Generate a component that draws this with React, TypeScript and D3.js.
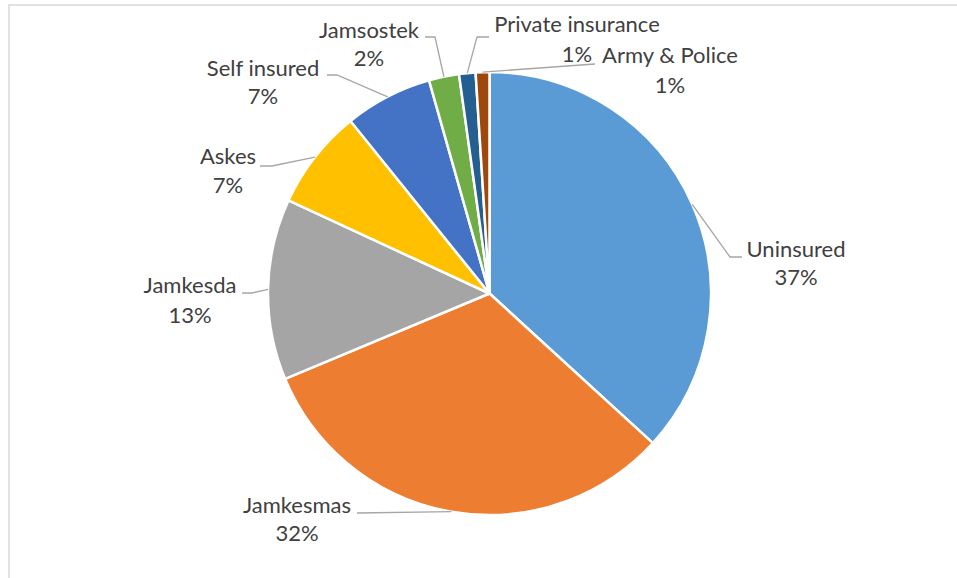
import React from 'react';
import * as d3 from 'd3';

const categories = ['Uninsured', 'Jamkesmas', 'Jamkesda', 'Askes', 'Self insured', 'Jamsostek', 'Private insurance', 'Army & Police'];
const values = [36.8, 31.9, 13.2, 7.3, 6.4, 2.2, 1.2, 1.0];
const percentLabels = ['37%', '32%', '13%', '7%', '7%', '2%', '1%', '1%'];
const colors = ['#5B9BD5', '#ED7D31', '#A5A5A5', '#FFC000', '#4472C4', '#70AD47', '#255E91', '#9E480E'];

// label layout (text centre, baselines, leader elbow / end)
const labelLayout: { x: number; y1: number; y2: number; elbow: number[] | null; end: number[] }[] = [
  { x: 796, y1: 257, y2: 285, elbow: [730, 257], end: [742, 257] },
  { x: 297, y1: 513, y2: 541, elbow: null, end: [357, 513] },
  { x: 190, y1: 293, y2: 323, elbow: [252, 293], end: [242, 293] },
  { x: 228, y1: 164, y2: 193, elbow: [272, 166], end: [260, 166] },
  { x: 263, y1: 76, y2: 104, elbow: [337, 75], end: [327, 75] },
  { x: 369, y1: 38, y2: 66, elbow: [435, 37], end: [425, 37] },
  { x: 577, y1: 32, y2: 62, elbow: [477, 37], end: [489, 37] },
  { x: 670, y1: 63, y2: 93, elbow: null, end: [595, 64] },
];

const W = 957;
const H = 578;
const cx = 489.5;
const cy = 293.5;
const R = 221.5;

export default function App() {
  const pie = d3.pie<number>().sort(null).startAngle(0).endAngle(2 * Math.PI).value((d) => d);
  const arcs = pie(values);
  const arc = d3.arc<d3.PieArcDatum<number>>().innerRadius(0).outerRadius(R);
  const edge = d3.arc<d3.PieArcDatum<number>>().innerRadius(R).outerRadius(R);
  const font = "Lato, 'Open Sans', sans-serif";

  return (
    <svg width={W} height={H} style={{ position: 'absolute', left: 0, top: 0, background: '#fff' }}>
      <rect x={9} y={5} width={W} height={H} fill="#fff" stroke="#d9d9d9" strokeWidth={1.5} />
      <g transform={`translate(${cx},${cy})`}>
        {arcs.map((a, i) => (
          <path key={categories[i]} d={arc(a) || ''} fill={colors[i]} stroke="#fff" strokeWidth={2.5} strokeLinejoin="round" />
        ))}
      </g>
      {arcs.map((a, i) => {
        const [px, py] = edge.centroid(a);
        const L = labelLayout[i];
        const pts: number[][] = [[cx + px, cy + py]];
        if (L.elbow) pts.push(L.elbow);
        pts.push(L.end);
        return (
          <polyline
            key={'l' + i}
            points={pts.map((p) => p.join(',')).join(' ')}
            fill="none"
            stroke="#a6a6a6"
            strokeWidth={1.3}
          />
        );
      })}
      {categories.map((c, i) => {
        const L = labelLayout[i];
        return (
          <g key={'t' + i} fill="#404040" fontFamily={font} fontSize={22} textAnchor="middle">
            <text x={L.x} y={L.y1}>{c}</text>
            <text x={L.x} y={L.y2}>{percentLabels[i]}</text>
          </g>
        );
      })}
    </svg>
  );
}
